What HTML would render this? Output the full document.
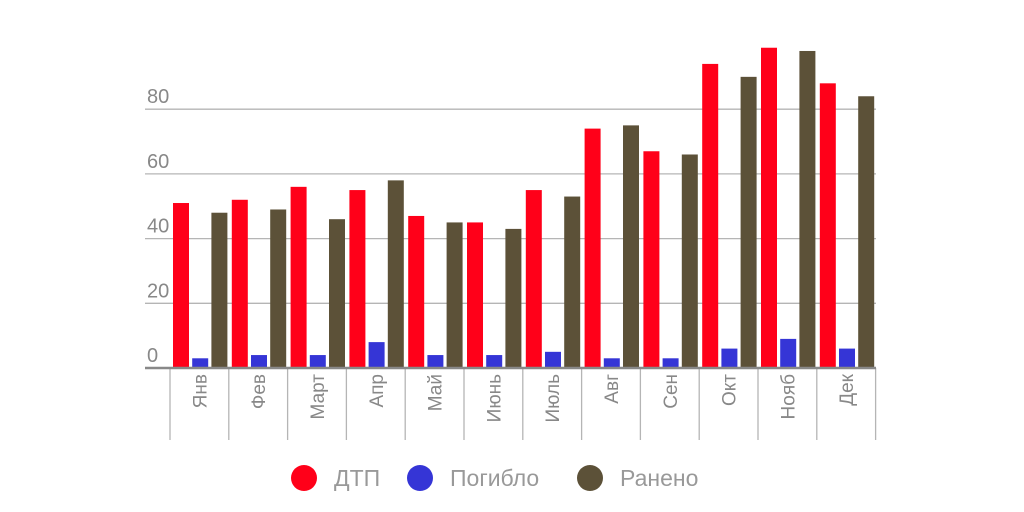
<!DOCTYPE html>
<html><head><meta charset="utf-8"><style>
body{margin:0;background:#fff;}
svg{display:block;font-family:"Liberation Sans","DejaVu Sans",sans-serif;}
</style></head><body>
<svg id="chart" width="1024" height="512" viewBox="0 0 1024 512">
<g id="grid"></g>
<g id="bars"></g>
<g id="xaxis"></g>
<g id="legend"></g>
</svg>
<script>
const categories=["Янв","Фев","Март","Апр","Май","Июнь","Июль","Авг","Сен","Окт","Нояб","Дек"];
const dtp=[51,52,56,55,47,45,55,74,67,94,99,88];
const killed=[3,4,4,8,4,4,5,3,3,6,9,6];
const injured=[48,49,46,58,45,43,53,75,66,90,98,84];
const yTicks=[0,20,40,60,80];
const seriesNames=["ДТП","Погибло","Ранено"];
const colors=["#ff0019","#3535d6","#5c5138"];
const NS="http://www.w3.org/2000/svg";
const x0=170,colW=58.8,y0=368,pxPerUnit=3.235;
const y=v=>y0-v*pxPerUnit;
function mk(tag,attrs,parent){const e=document.createElementNS(NS,tag);for(const k in attrs)e.setAttribute(k,attrs[k]);parent.appendChild(e);return e;}
const grid=document.getElementById('grid'),bars=document.getElementById('bars'),xa=document.getElementById('xaxis'),lg=document.getElementById('legend');
yTicks.forEach(t=>{
  if(t>0){const l=mk('line',{x1:145,x2:876,y1:y(t),y2:y(t),stroke:'#b5b5b5','stroke-width':1.3},grid);
  
  }
  const tx=mk('text',{x:147,y:y(t)-6,'font-size':20,fill:'#888'},grid);
  tx.textContent=t;
  
  
});
const series=[dtp,killed,injured];
categories.forEach((c,i)=>{
  const cx=x0+i*colW;
  series.forEach((s,j)=>{
    const r=mk('rect',{x:cx+3+j*19.2,y:y(s[i]),width:16,height:s[i]*pxPerUnit,fill:colors[j]},bars);
    
    
  });
  const tx=mk('text',{transform:`translate(${cx+colW/2+7},374) rotate(-90)`,'text-anchor':'end','font-size':19,fill:'#888'},xa);
  tx.textContent=c;
  
  
});
for(let i=0;i<=categories.length;i++){
  const l=mk('line',{x1:x0+i*colW,x2:x0+i*colW,y1:368,y2:440,stroke:'#b5b5b5','stroke-width':1.3},xa);
  
  
}
const base=mk('line',{x1:145,x2:876,y1:368,y2:368,stroke:'#888','stroke-width':2.5},xa);


const lx=[304,420,590];
seriesNames.forEach((n,j)=>{
  const g=mk('g',{},lg);
  
  
  mk('circle',{cx:lx[j],cy:478,r:13,fill:colors[j]},g);
  const t=mk('text',{x:lx[j]+30,y:486,'font-size':23,fill:'#999'},g);
  t.textContent=n;
});
</script>
</body></html>
